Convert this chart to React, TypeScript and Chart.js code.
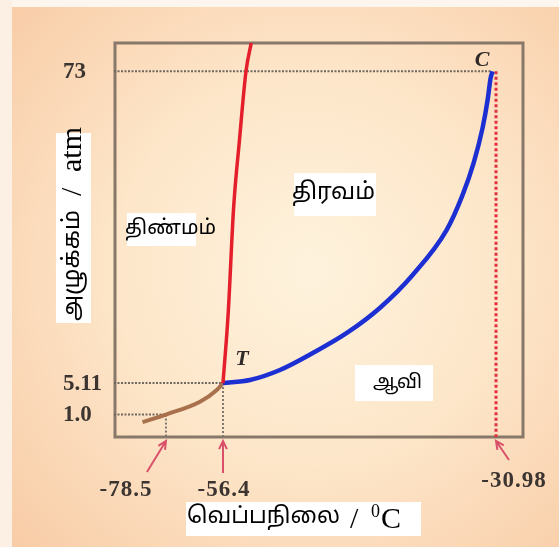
import React, { useEffect, useRef } from 'react';
import { Chart, registerables, LinearScale } from 'chart.js';

Chart.register(...registerables);

// ---- data ----
const temperatureTicks = [-78.5, -56.4, -30.98];
const temperatureLabels = ['-78.5', '-56.4', '-30.98'];
const pressureTicks = [1.0, 5.11, 73];
const pressureLabels = ['1.0', '5.11', '73'];

const sublimationX = [-87.6, -78.5, -65.3, -58.8, -56.4];
const sublimationY = [0.66, 1.0, 2.67, 4.2, 5.11];

const meltingX = [-56.4, -55.92, -55.42, -54.86, -54.26, -53.77];
const meltingY = [5.11, 20.15, 43.0, 58.2, 73.0, 79];

const vaporX = [-56.4, -53.89, -51.1, -48.03, -44.87, -41.8, -38.74, -35.57, -34.09, -33.06, -32.23, -31.76, -31.48, -31.3];
const vaporY = [5.11, 5.76, 7.94, 11.65, 16.01, 21.46, 28.65, 38.46, 46.08, 53.06, 60.69, 66.79, 71.59, 73];

const triplePoint = { x: -56.4, y: 5.11 };
const criticalPoint = { x: -30.98, y: 73 };

const regionLabels = ['திண்மம்', 'திரவம்', 'ஆவி'];
const xTitleTamil = 'வெப்பநிலை';
const yTitleTamil = 'அழுக்கம்';

// schematic (not-to-scale) axis: value -> fraction of axis length
const AXIS_BREAKS: Record<string, number[][]> = {
  x: [[-98.7, 0], [-78.5, 0.127], [-56.4, 0.2665], [-30.98, 0.934], [-28.5, 1]],
  y: [[0, 0], [1, 0.057], [5.11, 0.137], [73, 0.928], [79, 1]],
};

function interp(table: number[][], v: number, from: number, to: number) {
  const n = table.length;
  let i = 0;
  if (v <= table[0][from]) i = 0;
  else if (v >= table[n - 1][from]) i = n - 2;
  else {
    for (i = 0; i < n - 1; i++) if (v >= table[i][from] && v <= table[i + 1][from]) break;
  }
  const a = table[i], b = table[i + 1];
  const t = (v - a[from]) / (b[from] - a[from]);
  return a[to] + t * (b[to] - a[to]);
}

class SchematicScale extends LinearScale {
  static id = 'schematic';
  static defaults = {};
  getPixelForValue(value: any) {
    if (value === null || value === undefined || isNaN(value)) return NaN;
    const f = interp(AXIS_BREAKS[(this as any).axis], +value, 0, 1);
    const s: any = this;
    return this.isHorizontal() ? s.left + f * s.width : s.bottom - f * s.height;
  }
  getValueForPixel(pixel: number) {
    const s: any = this;
    const f = this.isHorizontal() ? (pixel - s.left) / s.width : (s.bottom - pixel) / s.height;
    return interp(AXIS_BREAKS[s.axis], f, 1, 0);
  }
}
Chart.register(SchematicScale as any);

const pts = (xs: number[], ys: number[]) => xs.map((x, i) => ({ x, y: ys[i] }));

const TAMIL = '"Noto Sans Tamil", "Noto Serif Tamil", "Lohit Tamil", "Latha", "Noto Sans", sans-serif';
const SERIF = '"Liberation Serif", "Times New Roman", serif';

function fitSize(ctx: CanvasRenderingContext2D, text: string, family: string, targetW: number, maxSize: number) {
  ctx.font = `100px ${family}`;
  const w = ctx.measureText(text).width || 1;
  return Math.min(maxSize, (100 * targetW) / w);
}

function arrow(ctx: CanvasRenderingContext2D, x0: number, y0: number, x1: number, y1: number) {
  const ang = Math.atan2(y1 - y0, x1 - x0);
  const h = 9;
  ctx.beginPath();
  ctx.moveTo(x0, y0);
  ctx.lineTo(x1, y1);
  ctx.moveTo(x1 - h * Math.cos(ang - 0.45), y1 - h * Math.sin(ang - 0.45));
  ctx.lineTo(x1, y1);
  ctx.lineTo(x1 - h * Math.cos(ang + 0.45), y1 - h * Math.sin(ang + 0.45));
  ctx.stroke();
}

const decorPlugin = {
  id: 'decor',
  beforeDraw(chart: any) {
    const { ctx, width, height } = chart;
    ctx.save();
    const g = ctx.createRadialGradient(310, 270, 10, 310, 270, 420);
    g.addColorStop(0, '#fef2dc');
    g.addColorStop(0.45, '#fde6c9');
    g.addColorStop(1, '#f8caa4');
    ctx.fillStyle = g;
    ctx.fillRect(0, 0, width, height);
    ctx.fillStyle = '#fdf6ef';
    ctx.fillRect(0, 0, width, 7);
    ctx.fillStyle = '#fcefe4';
    ctx.fillRect(0, 0, 12, height);
    ctx.restore();
  },
  beforeDatasetsDraw(chart: any) {
    const { ctx, chartArea: a } = chart;
    ctx.save();
    ctx.strokeStyle = '#877869';
    ctx.lineWidth = 3;
    ctx.strokeRect(a.left + 1, a.top, a.right - a.left - 1, a.bottom - a.top);
    ctx.restore();
  },
  afterDraw(chart: any) {
    const { ctx, chartArea: a } = chart;
    const xs = chart.scales.x, ys = chart.scales.y;
    ctx.save();
    // y tick labels
    ctx.fillStyle = '#3b3431';
    ctx.font = `bold 23px ${SERIF}`;
    ctx.textBaseline = 'middle';
    ctx.textAlign = 'left';
    pressureTicks.forEach((v, i) => ctx.fillText(pressureLabels[i], 63, ys.getPixelForValue(v) + 1));
    // x tick labels + arrows
    (ctx as any).letterSpacing = '1px';
    ctx.textAlign = 'center';
    const offs = [[-40, 53], [1, 53], [18, 44]];
    const tails = [[-19, 35], [0, 36], [13, 23]];
    temperatureTicks.forEach((v, i) => {
      const px = xs.getPixelForValue(v);
      ctx.fillStyle = '#3b3431';
      ctx.fillText(temperatureLabels[i], px + offs[i][0], a.bottom + offs[i][1]);
      ctx.strokeStyle = '#d9506a';
      ctx.lineWidth = 2;
      arrow(ctx, px + tails[i][0], a.bottom + tails[i][1], px, a.bottom + 4);
    });
    (ctx as any).letterSpacing = '0px';
    // T and C
    ctx.fillStyle = '#2f2a27';
    ctx.font = `italic bold 22px ${SERIF}`;
    ctx.fillText('T', xs.getPixelForValue(triplePoint.x) + 19, ys.getPixelForValue(triplePoint.y) - 24);
    ctx.fillText('C', xs.getPixelForValue(criticalPoint.x) - 14, ys.getPixelForValue(criticalPoint.y) - 11);

    // region labels (white boxes)
    const regions = [
      { t: regionLabels[0], bx: 127, by: 213, bw: 69, bh: 33, tx: 125, ty: 230, tw: 91 },
      { t: regionLabels[1], bx: 294, by: 173, bw: 82, bh: 43, tx: 292, ty: 194, tw: 83 },
      { t: regionLabels[2], bx: 355, by: 365, bw: 78, bh: 36, tx: 373, ty: 384, tw: 49 },
    ];
    regions.forEach((r) => {
      ctx.fillStyle = '#ffffff';
      ctx.fillRect(r.bx, r.by, r.bw, r.bh);
      const size = fitSize(ctx, r.t, TAMIL, r.tw, 30);
      ctx.font = `${size}px ${TAMIL}`;
      ctx.fillStyle = '#000000';
      ctx.textAlign = 'left';
      ctx.textBaseline = 'middle';
      ctx.fillText(r.t, r.tx, r.ty);
    });

    // x title
    ctx.fillStyle = '#ffffff';
    ctx.fillRect(186, 502, 235, 34);
    ctx.fillStyle = '#000000';
    let size = fitSize(ctx, xTitleTamil, TAMIL, 153, 30);
    ctx.font = `${size}px ${TAMIL}`;
    ctx.textAlign = 'left';
    ctx.textBaseline = 'middle';
    ctx.fillText(xTitleTamil, 187, 518);
    ctx.font = `30px ${SERIF}`;
    ctx.textBaseline = 'alphabetic';
    ctx.fillText('/', 350, 528);
    ctx.fillText('C', 381, 528);
    ctx.font = `18px ${SERIF}`;
    ctx.fillText('0', 371, 517);

    // y title (rotated)
    ctx.save();
    ctx.translate(74, 323);
    ctx.rotate(-Math.PI / 2);
    ctx.fillStyle = '#ffffff';
    ctx.fillRect(0, -18, 190, 35);
    ctx.fillStyle = '#000000';
    size = fitSize(ctx, yTitleTamil, TAMIL, 111, 30);
    ctx.font = `${size}px ${TAMIL}`;
    ctx.textBaseline = 'middle';
    ctx.textAlign = 'left';
    ctx.fillText(yTitleTamil, 2, 0);
    ctx.font = `30px ${SERIF}`;
    ctx.fillText('/', 127, -1);
    ctx.fillText('atm', 151, -1);
    ctx.restore();

    ctx.restore();
  },
};

export default function App() {
  const ref = useRef<HTMLCanvasElement>(null);
  useEffect(() => {
    if (!ref.current) return;
    const xMin = AXIS_BREAKS.x[0][0];
    const yMin = AXIS_BREAKS.y[0][0];
    const guide = (data: any[], color: string, w: number, dash: number[]) => ({
      data,
      borderColor: color,
      borderWidth: w,
      borderDash: dash,
      borderCapStyle: 'butt',
      tension: 0,
      pointRadius: 0,
      fill: false,
    });
    const curve = (data: any[], color: string, w: number) => ({
      data,
      borderColor: color,
      borderWidth: w,
      cubicInterpolationMode: 'monotone',
      pointRadius: 0,
      fill: false,
    });
    const chart = new Chart(ref.current, {
      type: 'line',
      data: {
        datasets: [
          curve(pts(meltingX, meltingY), '#e41e2b', 3.5),
          curve(pts(vaporX, vaporY), '#1c2fd2', 4.5),
          curve(pts(sublimationX, sublimationY), '#a8714c', 4),
          guide([{ x: criticalPoint.x, y: criticalPoint.y }, { x: criticalPoint.x, y: yMin }], '#e3303f', 3, [3, 2.5]),
          guide([{ x: xMin, y: criticalPoint.y }, { x: -31.4, y: criticalPoint.y }], '#6f6862', 2, [2, 1.5]),
          guide([{ x: xMin, y: triplePoint.y }, { x: triplePoint.x, y: triplePoint.y }], '#6f6862', 2, [2, 1.5]),
          guide([{ x: triplePoint.x, y: triplePoint.y }, { x: triplePoint.x, y: yMin }], '#7d7872', 2, [2, 2]),
          guide([{ x: xMin, y: pressureTicks[0] }, { x: temperatureTicks[0], y: pressureTicks[0] }], '#6f6862', 2, [2, 1.5]),
          guide([{ x: temperatureTicks[0], y: pressureTicks[0] }, { x: temperatureTicks[0], y: yMin }], '#7d7872', 2, [2, 2]),
        ] as any,
      },
      options: {
        responsive: false,
        animation: false,
        events: [],
        layout: { padding: { left: 114, top: 43, right: 36, bottom: 110 } },
        plugins: { legend: { display: false }, tooltip: { enabled: false } },
        scales: {
          x: { type: 'schematic' as any, min: AXIS_BREAKS.x[0][0], max: AXIS_BREAKS.x[4][0], display: false },
          y: { type: 'schematic' as any, min: yMin, max: AXIS_BREAKS.y[4][0], display: false },
        },
      },
      plugins: [decorPlugin],
    });
    return () => chart.destroy();
  }, []);
  return (
    <div style={{ position: 'fixed', left: 0, top: 0, width: 559, height: 547 }}>
      <canvas ref={ref} width={559} height={547} style={{ display: 'block' }} />
    </div>
  );
}
